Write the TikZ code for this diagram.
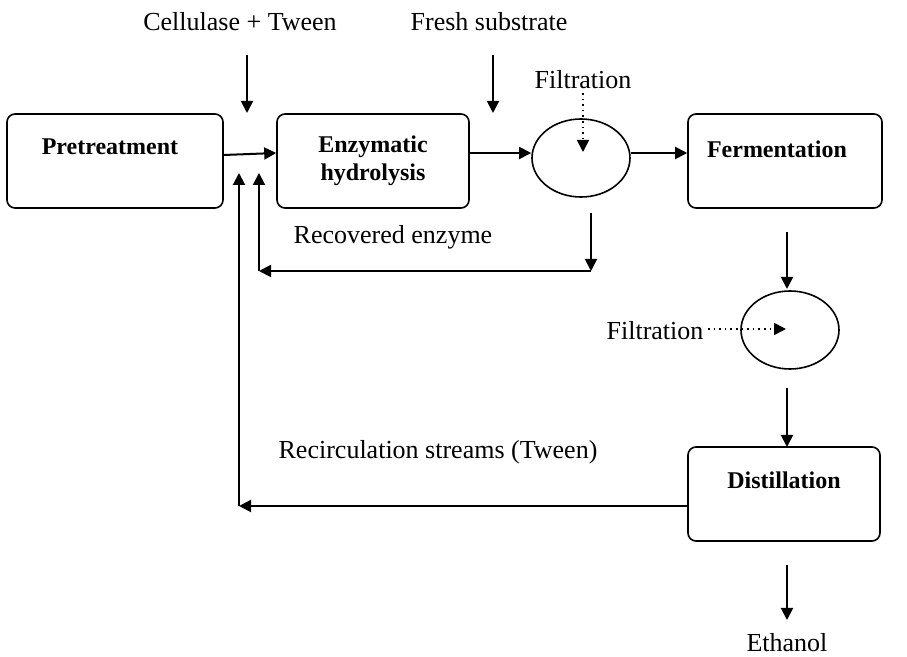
\documentclass[tikz,border=0pt]{standalone}
\usepackage{fontspec}
\setmainfont{Liberation Serif}
\usetikzlibrary{arrows.meta, shapes.geometric}

\begin{document}
\begin{tikzpicture}[x=0.5pt, y=-0.5pt,
    font=\fontsize{13}{15}\selectfont,
    box/.style={draw, rounded corners=4pt, line width=0.8pt, minimum width=#1, minimum height=47pt},
    tank/.style={draw, ellipse, line width=0.8pt, minimum width=49pt, minimum height=39pt},
    title/.style={font=\fontsize{12}{14}\selectfont\bfseries, align=center},
    flow/.style={line width=1pt, -{Triangle[length=6pt,width=6pt]}},
    filt/.style={line width=0.8pt, dotted, -{Triangle[length=6pt,width=6pt]}}]
    \useasboundingbox (0,0) rectangle (907,657);

    % --- 1. boxes and filters ---
    \node[box=108pt] (pre) at (115,161) {};
    \node[box=96pt, title] (enz) at (373,161) {Enzymatic\\hydrolysis};
    \node[box=97pt] (fer) at (785,161) {};
    \node[box=96pt] (dis) at (784,494) {};
    \node[tank] (fa) at (581,158) {};
    \node[tank] (fb) at (790,330) {};

    \node[title] (pretxt) at (110,147) {Pretreatment};
    \node[title] (fertxt) at (777,149) {Fermentation};
    \node[title] (distxt) at (784,480) {Distillation};

    % --- 2. labels ---
    \node (cel) at (240,22) {Cellulase + Tween};
    \node (fresh) at (489,22) {Fresh substrate};
    \node (filta) at (583,80) {Filtration};
    \node (rec) at (393,237) {Recovered enzyme};
    \node (filtb) at (655,331) {Filtration};
    \node (recirc) at (438,452) {Recirculation streams (Tween)};
    \node (eth) at (787,643) {Ethanol};

    % --- 3. free ends ---
    \coordinate (c1) at (247,55);   \coordinate (c2) at (247,113);
    \coordinate (s1) at (493,55);   \coordinate (s2) at (493,113);
    \coordinate (f1) at (583,93);   \coordinate (f2) at (583,152);
    \coordinate (r1) at (591,213);  \coordinate (r2) at (591,271);
    \coordinate (r3) at (259,271);  \coordinate (r4) at (259,173);
    \coordinate (t1) at (239,506);  \coordinate (t2) at (239,173);
    \coordinate (g1) at (787,232);  \coordinate (g2) at (787,289);
    \coordinate (h1) at (708,329);  \coordinate (h2) at (786,329);
    \coordinate (d1) at (787,388);  \coordinate (d2) at (787,447);
    \coordinate (e1) at (787,565);  \coordinate (e2) at (787,620);

    % --- 4. main line ---
    \draw[flow] ([yshift=3pt]pre.east) -- ([yshift=4pt]enz.west);
    \draw[flow] ([yshift=4pt]enz.east) -- ([yshift=4pt]enz.east -| fa.west);
    \draw[flow] ([yshift=2.5pt]fa.east) -- ([yshift=2.5pt]fa.east -| fer.west);
    \draw[flow] (g1) -- (g2);
    \draw[flow] (d1) -- (d2);
    \draw[flow] (e1) -- (e2);

    % --- 5. feeds and filtration ---
    \draw[flow] (c1) -- (c2);
    \draw[flow] (s1) -- (s2);
    \draw[filt] (f1) -- (f2);
    \draw[filt] (h1) -- (h2);

    % --- 6. recycle loops ---
    \draw[flow] (r1) -- (r2);
    \draw[flow] (r2) -- (r3);
    \draw[flow] (r3) -- (r4);
    \draw[flow] ([yshift=-6pt]dis.west) -- (t1);
    \draw[flow] (t1) -- (t2);
\end{tikzpicture}
\end{document}
